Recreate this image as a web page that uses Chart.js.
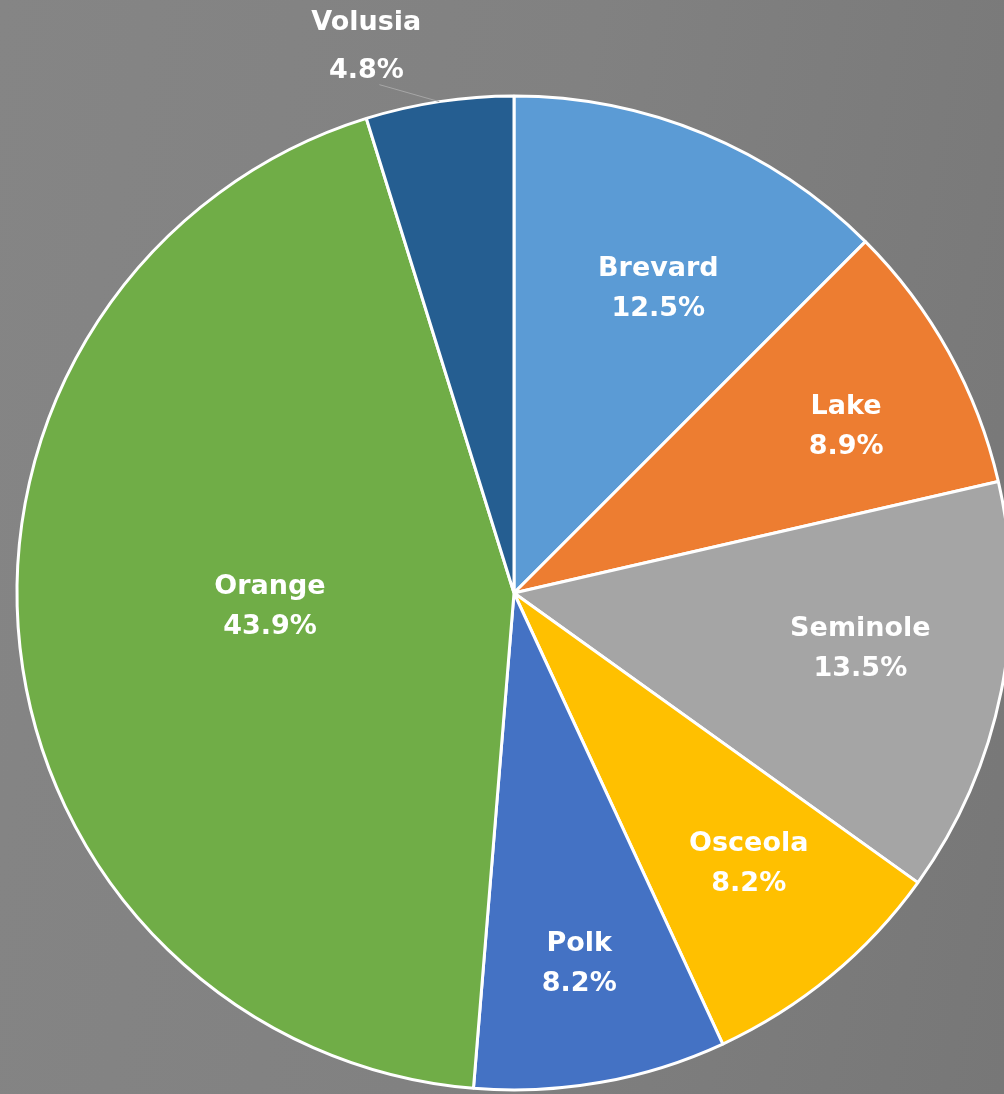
<!DOCTYPE html>
<html>
<head>
<meta charset="utf-8">
<script src="https://cdn.jsdelivr.net/npm/chart.js@4"></script>
<style>
  html, body { margin: 0; padding: 0; }
  body {
    width: 1004px; height: 1094px; overflow: hidden;
    background: linear-gradient(100deg, #858585 0%, #818181 50%, #777777 100%);
  }
  #wrap { position: relative; width: 1004px; height: 1094px; }
</style>
</head>
<body>
<div id="wrap"><canvas id="pieChart" width="1004" height="1094"></canvas></div>
<script>
// County share of total (percent), clockwise from 12 o'clock
const counties = ['Brevard', 'Lake', 'Seminole', 'Osceola', 'Polk', 'Orange', 'Volusia'];
const shares = [12.5, 8.9, 13.5, 8.2, 8.2, 43.9, 4.8];
const sliceColors = ['#5b9bd5', '#ed7d31', '#a5a5a5', '#ffc000', '#4472c4', '#70ad47', '#255e91'];

// how far out (fraction of radius) each label sits; null = outside with a leader line
const labelDepth = [0.68, 0.75, 0.68, 0.70, 0.75, 0.50, null];
// small hand nudges so labels land where Excel's best-fit put them
const labelNudge = [[15, 8], [6, 15], [15, -10], [13, 3], [0, 4], [3, -13], [-3, 2]];

const labelFont = 'bold 27px "DejaVu Sans", sans-serif';

const sliceLabels = {
  id: 'sliceLabels',
  afterDatasetsDraw(chart) {
    const ctx = chart.ctx;
    const arcs = chart.getDatasetMeta(0).data;
    ctx.save();
    ctx.font = labelFont;
    ctx.fillStyle = '#ffffff';
    ctx.textAlign = 'center';
    ctx.textBaseline = 'middle';
    arcs.forEach((arc, i) => {
      const mid = (arc.startAngle + arc.endAngle) / 2;
      const r = arc.outerRadius;
      const text = shares[i].toFixed(1) + '%';
      const [nx, ny] = labelNudge[i];
      let x, y;
      if (labelDepth[i] === null) {
        // outside label with leader line
        const ex = arc.x + Math.cos(mid) * r;
        const ey = arc.y + Math.sin(mid) * r;
        const lx = ex - 60, ly = ey - 17;
        ctx.strokeStyle = '#a6a6a6';
        ctx.lineWidth = 1;
        ctx.beginPath();
        ctx.moveTo(ex, ey);
        ctx.lineTo(lx, ly);
        ctx.stroke();
        x = lx - 10 + nx;
        y = ly - 40 + ny;
        ctx.fillText(counties[i], x, y - 24);
        ctx.fillText(text, x, y + 24);
        return;
      }
      x = arc.x + Math.cos(mid) * r * labelDepth[i] + nx;
      y = arc.y + Math.sin(mid) * r * labelDepth[i] + ny;
      ctx.fillText(counties[i], x, y - 20);
      ctx.fillText(text, x, y + 20);
    });
    ctx.restore();
  }
};

new Chart(document.getElementById('pieChart'), {
  type: 'pie',
  data: {
    labels: counties,
    datasets: [{
      data: shares,
      backgroundColor: sliceColors,
      borderColor: '#ffffff',
      borderWidth: 3,
      clip: false
    }]
  },
  options: {
    responsive: false,
    animation: false,
    radius: 497,
    layout: { padding: { left: 24, top: 92, right: 0, bottom: 0 } },
    plugins: {
      legend: { display: false },
      tooltip: { enabled: false }
    }
  },
  plugins: [sliceLabels]
});
</script>
</body>
</html>
